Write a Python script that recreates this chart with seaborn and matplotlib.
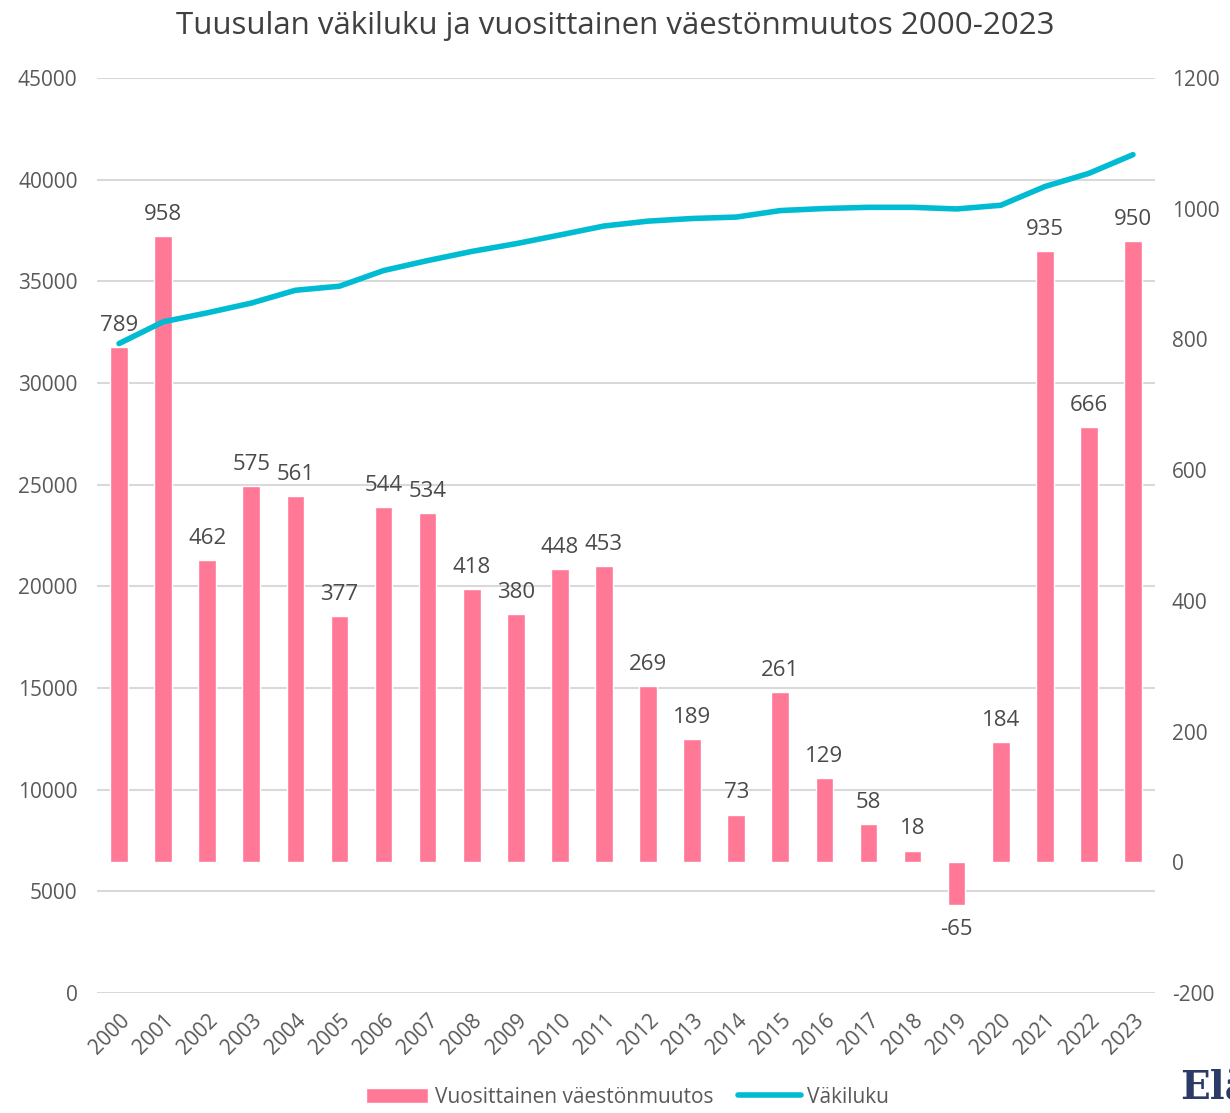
import matplotlib
matplotlib.use("Agg")
import matplotlib.pyplot as plt
import seaborn as sns
import pandas as pd
from matplotlib.patches import Patch
from matplotlib.lines import Line2D

# Chart data
years = [str(y) for y in range(2000, 2024)]
change = [789, 958, 462, 575, 561, 377, 544, 534, 418, 380, 448, 453,
          269, 189, 73, 261, 129, 58, 18, -65, 184, 935, 666, 950]
population = [31940, 33010, 33450, 33930, 34560, 34760, 35530, 36020, 36470, 36850, 37280, 37720,
              37960, 38090, 38160, 38480, 38580, 38640, 38640, 38560, 38740, 39660, 40310, 41230]

left_ticks = list(range(0, 45001, 5000))
right_ticks = list(range(-200, 1201, 200))

title = "Tuusulan väkiluku ja vuosittainen väestönmuutos 2000-2023"
bar_label = "Vuosittainen väestönmuutos"
line_label = "Väkiluku"

bar_color = "#FF7896"
line_color = "#00BCD2"
text_color = "#595959"

df = pd.DataFrame({"year": years, "change": change, "population": population})

sns.set_theme(style="white")
plt.rcParams["font.family"] = ["Open Sans", "DejaVu Sans"]

fig = plt.figure(figsize=(12.3, 11.13), dpi=100)
ax = fig.add_axes([97 / 1230, 1 - 993 / 1113, (1155 - 97) / 1230, (993 - 78) / 1113])

# twins: bars (right scale) then the line on top (left scale)
ax_bar = ax.twinx()
ax_line = ax.twinx()

# left axis: grid and labels for population
ax.set_ylim(0, 45000)
ax.set_yticks(left_ticks)
ax.set_yticklabels([str(t) for t in left_ticks], color=text_color, fontsize=15)
ax.grid(axis="y", color="#d9d9d9", linewidth=1.5)
ax.set_axisbelow(True)

# bars on the right-hand scale
sns.barplot(data=df, x="year", y="change", color=bar_color, width=0.4,
            saturation=1, ax=ax_bar)
ax_bar.yaxis.tick_right()
ax_bar.set_ylim(-200, 1200)
ax_bar.set_yticks(right_ticks)
ax_bar.set_yticklabels([str(t) for t in right_ticks], color=text_color, fontsize=15)
ax_bar.set_xlim(-0.5, len(years) - 0.5)
ax_bar.set_ylabel("")
ax_bar.set_xlabel("")
for i, v in enumerate(change):
    if v >= 0:
        ax_bar.annotate(str(v), (i, v), xytext=(0, 8), textcoords="offset points",
                        ha="center", va="bottom", fontsize=16, color="#4a4a4a")
    else:
        ax_bar.annotate(str(v), (i, v), xytext=(0, -10), textcoords="offset points",
                        ha="center", va="top", fontsize=16, color="#4a4a4a")

# population line on top, left scale
sns.lineplot(data=df, x="year", y="population", color=line_color, linewidth=4,
             ax=ax_line, sort=False)
ax_line.set_ylim(0, 45000)
ax_line.set_yticks([])
ax_line.set_ylabel("")
ax_line.set_xlim(-0.5, len(years) - 0.5)

ax.set_xlim(-0.5, len(years) - 0.5)
ax.set_xticks(range(len(years)))
ax.set_xticklabels(years, rotation=45, ha="right", rotation_mode="anchor",
                   color=text_color, fontsize=15)
ax.set_xlabel("")
ax_bar.tick_params(axis="x", labelbottom=False, bottom=False)
ax_line.tick_params(axis="x", labelbottom=False, bottom=False)
ax.tick_params(axis="x", length=0, pad=12)
ax.tick_params(axis="y", length=0, pad=14)
ax_bar.tick_params(axis="y", length=0, pad=12)

for a in (ax, ax_bar, ax_line):
    for s in a.spines.values():
        s.set_visible(False)

fig.suptitle(title, y=0.99, fontsize=22.5, color="#404040")

handles = [Patch(facecolor=bar_color, label=bar_label),
           Line2D([0], [0], color=line_color, linewidth=4, label=line_label)]
fig.legend(handles=handles, loc="lower center", bbox_to_anchor=(0.51, -0.012), ncol=2,
           frameon=False, fontsize=15, labelcolor=text_color, handlelength=3.0,
           columnspacing=1.2, handletextpad=0.3)

fig.text(1180 / 1230, 0.006, "Elä", fontsize=28, fontweight="bold", family="DejaVu Serif",
         color="#2B3A66", ha="left", va="bottom")

fig.savefig("out.png", dpi=100)
